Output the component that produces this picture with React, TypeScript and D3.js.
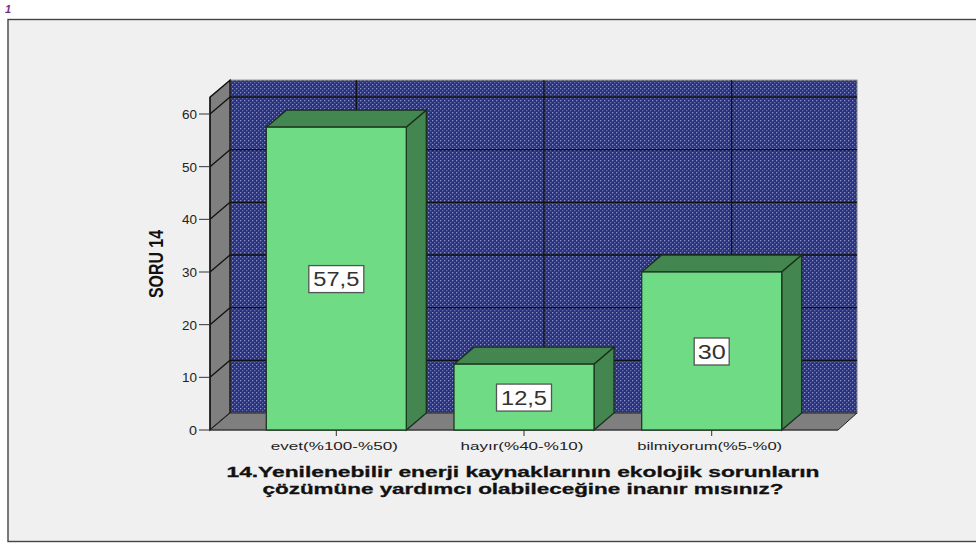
import * as d3 from 'd3';

const categories = ['evet(%100-%50)', 'hayır(%40-%10)', 'bilmiyorum(%5-%0)'];
const values = [57.5, 12.5, 30];
const valueLabels = ['57,5', '12,5', '30'];
const yTicks = [0, 10, 20, 30, 40, 50, 60];
const titleLines = [
  '14.Yenilenebilir enerji kaynaklarının ekolojik sorunların',
  'çözümüne yardımcı olabileceğine inanır mısınız?',
];
const yTitle = 'SORU 14';

const width = 976;
const height = 543;
const depthX = 20;
const depthY = 17;
const left = 210;
const right = 838;
const y0 = 430;

const x = d3.scaleBand<string>().domain(categories).range([left, right]).paddingInner(0.254).paddingOuter(0.3);
const y = d3.scaleLinear().domain([0, 60]).range([y0, 114]);
const yMax = 63.2;

const poly = (pts: [number, number][]) => {
  const path = d3.path();
  pts.forEach((p, i) => (i ? path.lineTo(p[0], p[1]) : path.moveTo(p[0], p[1])));
  path.closePath();
  return path.toString();
};

const labelFont = 'Liberation Sans, Arial, sans-serif';

export default function App() {
  const top = y(yMax);
  return (
    <svg width={width} height={height} style={{ position: 'absolute', left: 0, top: 0 }} fontFamily={labelFont}>
      <defs>
        <pattern id="dots" width={4} height={4} patternUnits="userSpaceOnUse">
          <rect width={4} height={4} fill="#283080" />
          <rect x={0} y={0} width={1.3} height={1.3} fill="#8d94c4" />
          <rect x={2} y={2} width={1.3} height={1.3} fill="#6a72ae" />
        </pattern>
      </defs>
      <rect width={width} height={height} fill="#fff" />
      <rect x={8} y={19.5} width={width} height={522} fill="#f0f0f0" stroke="#444" strokeWidth={1.4} />
      <text x={5} y={13} fontSize={11} fontWeight="bold" fontStyle="italic" fill="#7b2d8e">1</text>

      {/* back wall */}
      <rect x={left + depthX} y={top - depthY} width={right - left - 1} height={y0 - top} fill="url(#dots)" stroke="#777" strokeWidth={1} />
      {/* side wall */}
      <path d={poly([[left, y0], [left + depthX, y0 - depthY], [left + depthX, top - depthY], [left, top]])} fill="#7f7f7f" stroke="#111" strokeWidth={1.4} />
      {/* floor */}
      <path d={poly([[left, y0], [right, y0], [right + depthX - 1, y0 - depthY], [left + depthX, y0 - depthY]])} fill="#7f7f7f" stroke="#222" strokeWidth={1} />

      {yTicks.slice(1).map((t) => (
        <g key={t} stroke="#111" strokeWidth={1.3}>
          <line x1={left + depthX} x2={right + depthX - 1} y1={y(t) - depthY} y2={y(t) - depthY} />
          <line x1={left} x2={left + depthX} y1={y(t)} y2={y(t) - depthY} />
        </g>
      ))}
      {categories.map((c) => {
        const cx = x(c)! + x.bandwidth() / 2 + depthX;
        return <line key={c} x1={cx} x2={cx} y1={top - depthY} y2={y0 - depthY} stroke="#111" strokeWidth={1.3} />;
      })}

      {/* axes */}
      <line x1={left} x2={right} y1={y0} y2={y0} stroke="#444" />
      <line x1={left} x2={left} y1={top} y2={y0} stroke="#111" />
      {yTicks.map((t) => (
        <g key={t}>
          <line x1={left - 11} x2={left} y1={y(t)} y2={y(t)} stroke="#333" />
          <text x={left - 13} y={y(t) + 5} fontSize={12} textAnchor="end" fill="#222"
            textLength={t ? 15 : 8} lengthAdjust="spacingAndGlyphs">{t}</text>
        </g>
      ))}

      {/* bars */}
      {categories.map((c, i) => {
        const bx = x(c)!;
        const bw = x.bandwidth();
        const by = y(values[i]);
        const cx = bx + bw / 2;
        const cy = (by + y0) / 2 + 0.5;
        const long = valueLabels[i].length > 2;
        const tw = long ? 55 : 35;
        return (
          <g key={c}>
            <path d={poly([[bx, by], [bx + depthX, by - depthY], [bx + bw + depthX, by - depthY], [bx + bw, by]])} fill="#43864f" stroke="#1b2e1f" strokeWidth={1.3} />
            <path d={poly([[bx + bw, by], [bx + bw + depthX, by - depthY], [bx + bw + depthX, y0 - depthY], [bx + bw, y0]])} fill="#43864f" stroke="#1b2e1f" strokeWidth={1.3} />
            <rect x={bx} y={by} width={bw} height={y0 - by} fill="#6fdc85" stroke="#1b3a22" strokeWidth={1.3} />
            <rect x={cx - tw / 2} y={cy - 13.5} width={tw} height={27} fill="#fff" stroke="#555" strokeWidth={1.3} />
            <text x={cx} y={cy + 7} fontSize={20} textAnchor="middle" fill="#333"
              textLength={long ? 46 : 28} lengthAdjust="spacingAndGlyphs">{valueLabels[i]}</text>
            <line x1={cx} x2={cx} y1={y0} y2={y0 + 6} stroke="#333" />
            <text x={cx - 2} y={y0 + 20} fontSize={11.5} textAnchor="middle" fill="#222"
              textLength={[127, 123, 145][i]} lengthAdjust="spacingAndGlyphs">{c}</text>
          </g>
        );
      })}

      <text transform="translate(163,264) rotate(-90)" fontSize={20} fontWeight="bold" textAnchor="middle" fill="#111"
        textLength={68} lengthAdjust="spacingAndGlyphs">{yTitle}</text>

      {titleLines.map((line, i) => (
        <text key={line} x={523} y={477 + i * 17} fontSize={15} fontWeight="bold" textAnchor="middle" fill="#111"
          stroke="#111" strokeWidth={0.3}
          textLength={[593, 521][i]} lengthAdjust="spacingAndGlyphs">{line}</text>
      ))}
    </svg>
  );
}
